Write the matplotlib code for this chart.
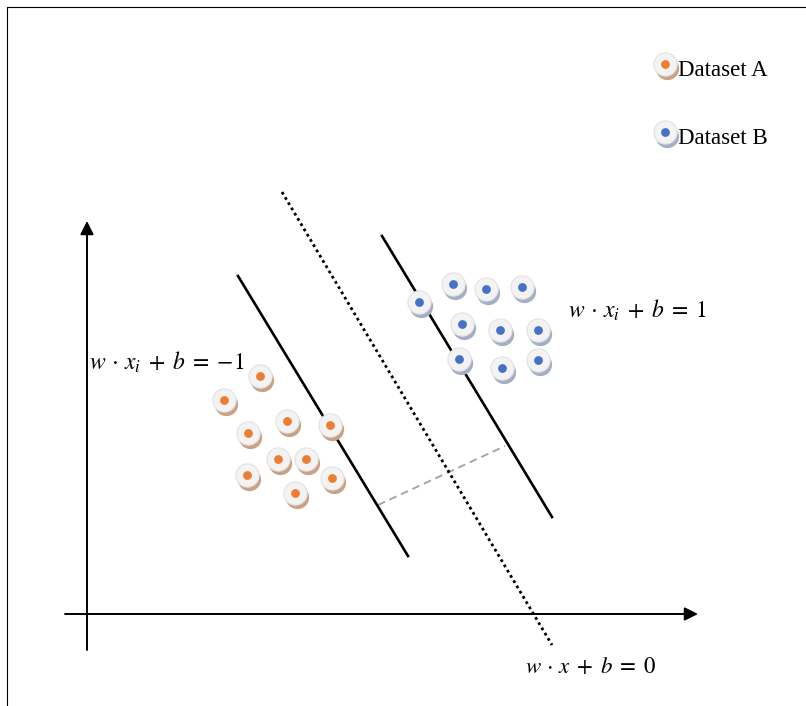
import numpy as np
import matplotlib.pyplot as plt

plt.rcParams['mathtext.fontset'] = 'stix'

# sample points (canvas units, y grows downward)
a_x = [260, 224, 287, 330, 248, 278, 306, 247, 332, 295]
a_y = [376, 400, 421, 425, 433, 459, 459, 475, 478, 493]
b_x = [453, 419, 486, 522, 462, 500, 538, 459, 502, 538]
b_y = [284, 302, 289, 287, 324, 330, 330, 359, 368, 360]

# separating lines: (x0, y0, x1, y1)
margin_neg = [238, 276, 408, 556]
margin_pos = [382, 236, 552, 517]
boundary = [282, 192, 552, 645]
gap = [378, 505, 505, 446]

labels = {
    'neg': r'$w\,\cdot\,x_i\;+\;b\;=\;{-1}$',
    'pos': r'$w\,\cdot\,x_i\;+\;b\;=\;1$',
    'zero': r'$w\,\cdot\,x\;+\;b\;=\;0$',
}
legend_names = ['Dataset A', 'Dataset B']

ORANGE = '#ed7d31'
BLUE = '#4472c4'


def draw_points(ax, xs, ys, dot, shadow):
    xs = np.asarray(xs, float)
    ys = np.asarray(ys, float)
    ax.scatter(xs + 2, ys + 3.5, s=280, color=shadow, lw=0, zorder=5)
    ax.scatter(xs, ys, s=280, color='#f3f3f3', edgecolor='#e2e2e2', lw=0.8, zorder=6)
    ax.scatter(xs, ys, s=40, color=dot, lw=0, zorder=7)


fig = plt.figure(figsize=(8.06, 7.06), dpi=100)
ax = fig.add_axes([0, 0, 1, 1])
ax.set_xlim(0, 806)
ax.set_ylim(706, 0)
ax.axis('off')

# frame
ax.plot([7, 7, 806], [706, 7, 7], color='black', lw=0.8)

# axes with arrows
ax.annotate('', xy=(87, 221), xytext=(87, 650),
            arrowprops=dict(arrowstyle='-|>', color='black', lw=1.4,
                            mutation_scale=20, shrinkA=0, shrinkB=0))
ax.annotate('', xy=(698, 614), xytext=(65, 614),
            arrowprops=dict(arrowstyle='-|>', color='black', lw=1.4,
                            mutation_scale=20, shrinkA=0, shrinkB=0))

ax.plot(margin_neg[::2], margin_neg[1::2], color='black', lw=1.9, zorder=3)
ax.plot(margin_pos[::2], margin_pos[1::2], color='black', lw=1.9, zorder=3)
ax.plot(boundary[::2], boundary[1::2], color='black', lw=2.0,
        dashes=(1.0, 1.2), zorder=3)
ax.plot(gap[::2], gap[1::2], color='#a6a6a6', lw=1.4,
        dashes=(4, 2.5), zorder=2)

draw_points(ax, a_x, a_y, ORANGE, '#c9a286')
draw_points(ax, b_x, b_y, BLUE, '#a4aec4')

ax.text(89, 362, labels['neg'], fontsize=17, va='center', ha='left')
ax.text(568, 310, labels['pos'], fontsize=17, va='center', ha='left')
ax.text(525, 666, labels['zero'], fontsize=16.5, va='center', ha='left')

# legend
leg_y = [64, 132]
draw_points(ax, [665], [leg_y[0]], ORANGE, '#c9a286')
draw_points(ax, [665], [leg_y[1]], BLUE, '#a4aec4')
for name, y in zip(legend_names, leg_y):
    ax.text(678, y + 7, name, fontsize=16.5, family='Liberation Serif',
            va='center', ha='left', zorder=8)

fig.savefig('out.png', dpi=100)
